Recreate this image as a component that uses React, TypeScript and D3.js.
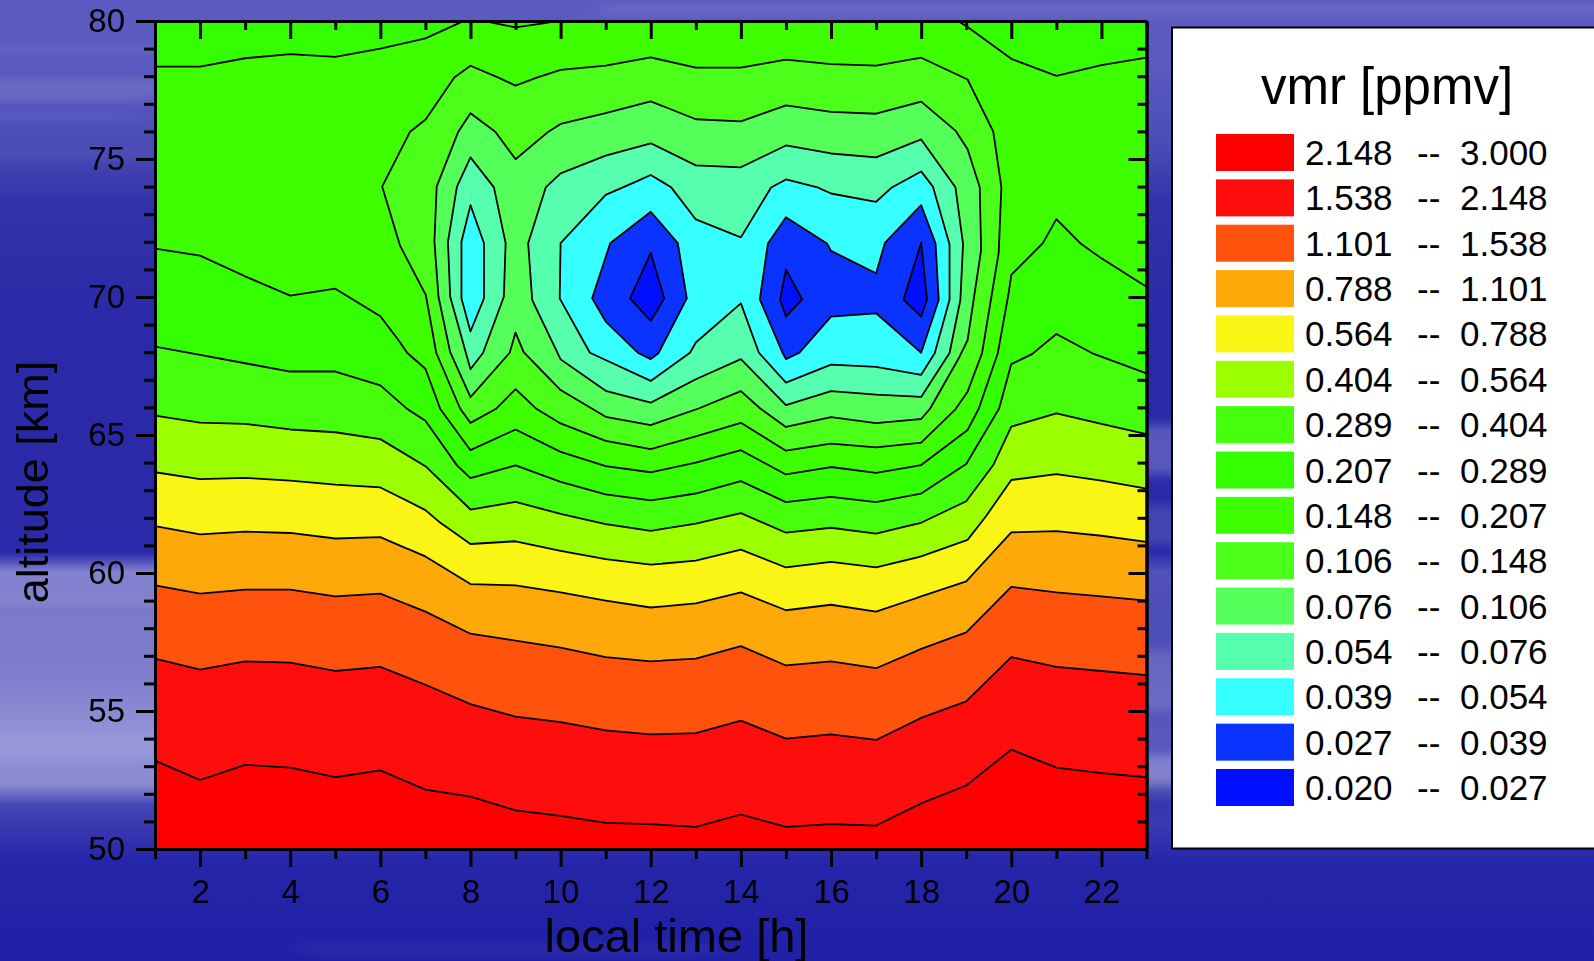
import React, { useEffect, useRef } from "react";
import * as d3 from "d3";

type Pt = [number, number];

// band colours, legend order (top row = highest vmr)
const bandLow = ["2.148", "1.538", "1.101", "0.788", "0.564", "0.404", "0.289", "0.207", "0.148", "0.106", "0.076", "0.054", "0.039", "0.027", "0.020"];
const bandHigh = ["3.000", "2.148", "1.538", "1.101", "0.788", "0.564", "0.404", "0.289", "0.207", "0.148", "0.106", "0.076", "0.054", "0.039", "0.027"];
const bandColors = ["#ff0000", "#ff0d0d", "#ff530d", "#ffa80a", "#faf514", "#9cff00", "#45ff0c", "#33ff00", "#3dff00", "#4cff1a", "#55ff5a", "#55ffae", "#36ffff", "#0a33ff", "#0010ff"];

// contours as [local time, altitude]
const c2148: Pt[] = [[1, 53.2], [2, 52.5], [3, 53.05], [4, 52.95], [5, 52.6], [6, 52.85], [7, 52.15], [8, 51.9], [9, 51.4], [10, 51.2], [11, 50.95], [12, 50.9], [13, 50.8], [14, 51.25], [15, 50.8], [16, 50.9], [17, 50.85], [18, 51.65], [19, 52.3], [20, 53.6], [21, 52.95], [22, 52.75], [23, 52.6]];
const c1538: Pt[] = [[1, 56.9], [2, 56.5], [3, 56.8], [4, 56.75], [5, 56.45], [6, 56.6], [7, 55.95], [8, 55.25], [9, 54.8], [10, 54.6], [11, 54.3], [12, 54.15], [13, 54.2], [14, 54.65], [15, 54.0], [16, 54.15], [17, 53.95], [18, 54.75], [19, 55.35], [20, 56.95], [21, 56.6], [22, 56.45], [23, 56.3]];
const c1101: Pt[] = [[1, 59.55], [2, 59.25], [3, 59.4], [4, 59.4], [5, 59.15], [6, 59.25], [7, 58.6], [8, 57.8], [9, 57.55], [10, 57.3], [11, 56.95], [12, 56.8], [13, 56.9], [14, 57.35], [15, 56.65], [16, 56.8], [17, 56.55], [18, 57.25], [19, 57.85], [20, 59.5], [21, 59.3], [22, 59.15], [23, 59.0]];
const c0788: Pt[] = [[1, 61.7], [2, 61.4], [3, 61.5], [4, 61.45], [5, 61.25], [6, 61.3], [7, 60.6], [8, 59.6], [9, 59.55], [10, 59.3], [11, 59.0], [12, 58.75], [13, 58.9], [14, 59.3], [15, 58.65], [16, 58.85], [17, 58.6], [18, 59.15], [19, 59.7], [20, 61.47], [21, 61.52], [22, 61.35], [23, 61.13]];
const c0564: Pt[] = [[1, 63.65], [2, 63.4], [3, 63.45], [4, 63.35], [5, 63.2], [6, 63.1], [7, 62.28], [7.3, 61.86], [8, 61.05], [9, 61.15], [10, 60.8], [11, 60.5], [12, 60.3], [13, 60.45], [14, 60.85], [15, 60.2], [16, 60.4], [17, 60.2], [18, 60.6], [19.03, 61.2], [19.43, 62.04], [20, 63.37], [21, 63.58], [22, 63.35], [23, 63.06]];
const c0404: Pt[] = [[1, 65.7], [2, 65.45], [3, 65.4], [4, 65.2], [5, 65.1], [6, 64.85], [7, 63.87], [8, 62.3], [9, 62.58], [10, 62.14], [11, 61.77], [12, 61.53], [13, 61.79], [14, 62.17], [15, 61.46], [16, 61.64], [17, 61.43], [18, 61.82], [19, 62.6], [19.6, 63.91], [20, 65.3], [21, 65.78], [22, 65.4], [23, 65.03]];
const c0289: Pt[] = [[1, 68.2], [2, 67.9], [3, 67.6], [4, 67.3], [5, 67.3], [6, 66.8], [6.6, 65.94], [7, 65.52], [7.7, 63.9], [8, 63.44], [9, 63.9], [10, 63.3], [11, 62.85], [12, 62.63], [13, 62.88], [14, 63.33], [15, 62.57], [16, 62.76], [17, 62.57], [18, 62.88], [19, 63.95], [19.73, 65.96], [20, 67.57], [20.46, 67.93], [21, 68.66], [21.8, 67.96], [23, 67.23]];
const c0207: Pt[] = [[1, 71.75], [2, 71.5], [3, 70.75], [4, 70.05], [5, 70.3], [5.3, 70.0], [6, 69.3], [6.4, 68.44], [6.6, 67.97], [7, 67.4], [7.33, 65.94], [8, 64.45], [9, 65.2], [10, 64.39], [11, 63.87], [12, 63.65], [13, 64.0], [14, 64.45], [15, 63.57], [16, 63.84], [17, 63.63], [18, 63.91], [19.03, 65.18], [19.28, 65.96], [19.7, 67.96], [19.94, 70.13], [20, 70.8], [20.7, 71.95], [21, 72.82], [21.53, 71.95], [22, 71.4], [23, 70.37]];
// same level again near the top edge, runs past 80 km and gets clipped
const c0207Top: Pt[] = [[1, 78.35], [2, 78.35], [3, 78.65], [4, 78.8], [5, 78.7], [6, 79.0], [7, 79.37], [7.77, 79.94], [8, 80.3], [8.47, 79.94], [9, 79.77], [9.73, 79.94], [10, 80.3], [14, 81], [18.5, 80.3], [19, 79.82], [20, 78.63], [21, 78.01], [22, 78.4], [23, 78.67]];
const c0148: Pt[] = [[6.04, 74], [6.66, 75.99], [7.01, 76.44], [7.64, 77.95], [8, 78.38], [8.62, 77.95], [9, 77.66], [9.47, 77.95], [10, 78.23], [11, 78.38], [12, 78.68], [13, 78.31], [14, 78.31], [15, 78.6], [16, 78.44], [17, 78.38], [18, 78.67], [19.03, 77.88], [19.6, 75.99], [19.78, 73.98], [19.72, 71.6], [19.35, 67.96], [19.03, 66.57], [18.76, 65.93], [18, 64.72], [17, 64.55], [16, 64.69], [15, 64.43], [14, 65.44], [13, 64.95], [12, 64.49], [11, 64.79], [10, 65.42], [9.47, 65.94], [9, 66.66], [8.56, 65.94], [8, 65.44], [7.77, 65.96], [7.24, 67.98], [7.01, 70.07], [6.44, 71.85]];
const c0106: Pt[] = [[7.25, 74], [7.73, 75.99], [8, 76.66], [8.55, 75.99], [9, 74.99], [9.73, 75.99], [10, 76.27], [11, 76.66], [12, 77.09], [13, 76.44], [14, 76.36], [15, 76.94], [16, 76.71], [17, 76.64], [18, 77.08], [18.76, 76.03], [19.03, 75.35], [19.3, 73.98], [19.33, 71.7], [19.03, 68.44], [18.83, 67.77], [18.2, 65.96], [18, 65.58], [17, 65.43], [16, 65.65], [15, 65.29], [14.43, 65.96], [14, 66.59], [13.06, 65.96], [12, 65.36], [11, 65.66], [10, 66.63], [9.18, 68.0], [9, 68.71], [8.87, 67.98], [8, 66.37], [7.55, 68.0], [7.29, 70.01], [7.2, 72]];
const c0076Left: Pt[] = [[7.7, 74], [8, 75.06], [8.52, 73.97], [8.78, 71.95], [8.74, 70.01], [8.28, 67.98], [8, 67.38], [7.55, 70.01], [7.5, 72]];
const c0076Right: Pt[] = [[9.67, 73.97], [10, 74.48], [11, 75.12], [12, 75.57], [13, 74.77], [14, 74.7], [15, 75.49], [16, 75.2], [17, 75.06], [18, 75.71], [18.76, 73.98], [18.93, 71.92], [18.87, 69.89], [18.63, 67.97], [18, 66.38], [17, 66.46], [16, 66.59], [15, 66.08], [14, 67.75], [13, 67.02], [12, 66.17], [11, 66.6], [10, 67.74], [9.37, 69.89], [9.28, 71.95]];
const c0054Left: Pt[] = [[8, 73.33], [8.3, 71.95], [8.3, 69.95], [8, 68.75], [7.8, 69.95], [7.8, 72]];
const c0054Right: Pt[] = [[10, 71.95], [11, 73.7], [11.7, 74.2], [12, 74.42], [12.45, 73.98], [13, 72.81], [14, 72.16], [14.67, 73.97], [15, 74.26], [15.7, 73.97], [16, 73.75], [17, 73.45], [17.35, 73.97], [18, 74.55], [18.26, 74], [18.63, 71.9], [18.63, 69.9], [18.3, 67.96], [18, 67.18], [17, 67.47], [16, 67.55], [15, 66.9], [14.4, 67.98], [14, 69.77], [13, 68.35], [12.87, 67.98], [12, 66.96], [10.65, 67.98], [9.98, 69.95]];
const c0039Left: Pt[] = [[12, 73.09], [12.6, 71.95], [12.8, 69.95], [12.17, 67.96], [12, 67.75], [11.73, 67.96], [11, 69.11], [10.7, 69.95], [11.1, 71.95]];
const c0039Right: Pt[] = [[15, 72.89], [15.91, 71.94], [16, 71.67], [17, 70.86], [17.2, 71.97], [18, 73.33], [18.32, 71.94], [18.39, 69.89], [18, 67.98], [17, 69.41], [16, 69.29], [15.3, 67.98], [15, 67.75], [14.93, 67.96], [14.42, 69.91], [14.6, 71.94]];
const c0027A: Pt[] = [[12, 71.6], [12.3, 69.95], [12, 69.13], [11.54, 69.95]];
const c0027B: Pt[] = [[15, 71.0], [15.36, 69.91], [15, 69.29], [14.87, 69.91]];
const c0027C: Pt[] = [[18, 71.97], [18.13, 69.91], [18, 69.29], [17.61, 69.91]];

const openContours = [c2148, c1538, c1101, c0788, c0564, c0404, c0289, c0207];
const closedContours: { rings: Pt[][]; band: number }[] = [
  { rings: [c0148], band: 9 },
  { rings: [c0106], band: 10 },
  { rings: [c0076Left, c0076Right], band: 11 },
  { rings: [c0054Left, c0054Right], band: 12 },
  { rings: [c0039Left, c0039Right], band: 13 },
  { rings: [c0027A, c0027B, c0027C], band: 14 },
];

const timeMajor = [2, 4, 6, 8, 10, 12, 14, 16, 18, 20, 22];
const timeMinor = [1, 3, 5, 7, 9, 11, 13, 15, 17, 19, 21, 23];
const altMajor = [50, 55, 60, 65, 70, 75, 80];
const altMinor = d3.range(50, 81).filter((d) => d % 5 !== 0);

// soft streaks of the backdrop: [y, height, x, width, opacity]
const streaks = [
  [4, 12, 600, 1100, 0.1], [46, 6, -60, 300, 0.1], [80, 10, -60, 260, 0.16], [94, 6, -60, 220, 0.2], [114, 5, -60, 200, 0.1], [152, 4, -60, 220, 0.1],
  [594, 10, -60, 220, 0.08], [738, 20, -60, 220, 0.08], [425, 50, 1120, 80, 0.22], [505, 40, 1120, 80, 0.12], [650, 60, 1120, 80, 0.14], [755, 30, 1120, 80, 0.25],
  [944, 10, 300, 420, 0.05],
];

const fontFamily = "'Liberation Sans', Arial, sans-serif";

const App = () => {
  const ref = useRef<SVGSVGElement>(null);

  useEffect(() => {
    const width = 1594, height = 961;
    const left = 155, right = 1146.5, top = 21, bottom = 849;

    const svg = d3.select(ref.current);
    svg.selectAll("*").remove();

    const defs = svg.append("defs");
    const grad = defs.append("linearGradient").attr("id", "sky").attr("x1", 0).attr("x2", 0).attr("y1", 0).attr("y2", 1);
    [[0, "#5a5ac0"], [60, "#5a5ac0"], [140, "#4d4db9"], [205, "#3232a8"], [320, "#2a2aa8"], [553, "#2a2aaa"], [572, "#8383d0"], [612, "#7a7ac8"], [674, "#7d7dcc"], [735, "#9393d8"], [785, "#8a8ad2"], [805, "#4545b4"], [860, "#2626aa"], [961, "#2020a6"]]
      .forEach(([y, c]) => grad.append("stop").attr("offset", (y as number) / height).attr("stop-color", c as string));
    defs.append("filter").attr("id", "soft").attr("filterUnits", "userSpaceOnUse")
      .attr("x", -200).attr("y", -100).attr("width", 2000).attr("height", 1200)
      .append("feGaussianBlur").attr("stdDeviation", "14 5");
    defs.append("clipPath").attr("id", "plotClip").append("rect")
      .attr("x", left).attr("y", top).attr("width", right - left).attr("height", bottom - top);

    svg.append("rect").attr("width", width).attr("height", height).attr("fill", "url(#sky)");
    // right of the plot the light band is weaker than on the left
    svg.append("rect").attr("x", 1110).attr("y", 555).attr("width", 120).attr("height", 260).attr("fill", "#2c2ca8").attr("opacity", 0.55).attr("filter", "url(#soft)");
    svg.append("g").attr("filter", "url(#soft)").selectAll("rect").data(streaks).join("rect")
      .attr("y", (d) => d[0]).attr("height", (d) => d[1]).attr("x", (d) => d[2]).attr("width", (d) => d[3])
      .attr("fill", "#ffffff").attr("opacity", (d) => d[4]);

    const x = d3.scaleLinear().domain([1, 23]).range([left, right]);
    const y = d3.scaleLinear().domain([50, 80]).range([bottom, top]);
    const line = d3.line<Pt>().x((d) => x(d[0])).y((d) => y(d[1]));

    const plot = svg.append("g").attr("clip-path", "url(#plotClip)");
    plot.append("rect").attr("x", left).attr("y", top).attr("width", right - left).attr("height", bottom - top).attr("fill", bandColors[0]);

    const cap: Pt[] = [[24, 90], [0, 90]];
    // each polygon covers everything above its contour, painted from the bottom up
    openContours.forEach((c, i) => {
      plot.append("path").attr("d", line([[0, c[0][1]], ...c, [24, c[c.length - 1][1]], ...cap]) + "Z").attr("fill", bandColors[i + 1]);
    });
    plot.append("path").attr("d", line([[0, c0207Top[0][1]], ...c0207Top, [24, c0207Top[c0207Top.length - 1][1]], ...cap]) + "Z").attr("fill", bandColors[7]);
    closedContours.forEach(({ rings, band }) => {
      rings.forEach((r) => plot.append("path").attr("d", line(r) + "Z").attr("fill", bandColors[band]));
    });

    const stroke = { fill: "none", stroke: "#000", "stroke-width": 1.8, "stroke-linejoin": "round" };
    const addLine = (d: string | null) => {
      const p = plot.append("path").attr("d", d);
      Object.entries(stroke).forEach(([k, v]) => p.attr(k, v));
    };
    [...openContours, c0207Top].forEach((c) => addLine(line(c)));
    closedContours.forEach(({ rings }) => rings.forEach((r) => addLine(line(r) + "Z")));

    const styleAxis = (g: any) => {
      g.selectAll("path").attr("stroke", "#000").attr("stroke-width", 3);
      g.selectAll("line").attr("stroke", "#000").attr("stroke-width", 3);
      g.selectAll("text").attr("font-family", fontFamily).attr("font-size", 33).attr("fill", "#000");
    };
    const axis = (gen: any, tx: number, ty: number) => {
      svg.append("g").attr("transform", `translate(${tx},${ty})`).call(gen).call(styleAxis);
    };

    // top and right carry inward ticks without labels
    axis(d3.axisBottom(x).tickValues(timeMinor).tickSize(10).tickSizeOuter(0).tickFormat(() => ""), 0, bottom);
    axis(d3.axisBottom(x).tickValues(timeMajor).tickSize(18).tickSizeOuter(0).tickPadding(13).tickFormat(d3.format("d")), 0, bottom);
    axis(d3.axisBottom(x).tickValues(timeMinor).tickSize(9).tickSizeOuter(0).tickFormat(() => ""), 0, top);
    axis(d3.axisBottom(x).tickValues(timeMajor).tickSize(18).tickSizeOuter(0).tickFormat(() => ""), 0, top);
    axis(d3.axisLeft(y).tickValues(altMinor).tickSize(11).tickSizeOuter(0).tickFormat(() => ""), left, 0);
    axis(d3.axisLeft(y).tickValues(altMajor).tickSize(19).tickSizeOuter(0).tickPadding(11).tickFormat(d3.format("d")), left, 0);
    axis(d3.axisLeft(y).tickValues(altMinor).tickSize(9).tickSizeOuter(0).tickFormat(() => ""), right, 0);
    axis(d3.axisLeft(y).tickValues(altMajor).tickSize(18).tickSizeOuter(0).tickFormat(() => ""), right, 0);

    svg.append("text").attr("x", 676.5).attr("y", 952).attr("text-anchor", "middle")
      .attr("font-family", fontFamily).attr("font-size", 47).text("local time [h]");
    svg.append("text").attr("transform", "translate(48,482) rotate(-90)").attr("text-anchor", "middle")
      .attr("font-family", fontFamily).attr("font-size", 45).text("altitude [km]");

    // legend box runs off the right edge
    const legend = svg.append("g");
    legend.append("rect").attr("x", 1172).attr("y", 27.5).attr("width", 440).attr("height", 821)
      .attr("fill", "#fff").attr("stroke", "#000").attr("stroke-width", 2);
    legend.append("text").attr("x", 1387).attr("y", 104).attr("text-anchor", "middle")
      .attr("font-family", fontFamily).attr("font-size", 51).text("vmr [ppmv]");
    const rowY = d3.scaleLinear().domain([0, 14]).range([134, 769]);
    bandColors.forEach((c, i) => {
      const ry = rowY(i);
      legend.append("rect").attr("x", 1216).attr("y", ry).attr("width", 78).attr("height", 37).attr("fill", c);
      const t = (tx: number, s: string) => legend.append("text").attr("x", tx).attr("y", ry + 31)
        .attr("font-family", fontFamily).attr("font-size", 35).text(s);
      t(1305, bandLow[i]);
      t(1417, "--");
      t(1460, bandHigh[i]);
    });
  }, []);

  return <svg ref={ref} width={1594} height={961} style={{ position: "absolute", left: 0, top: 0, display: "block" }} />;
};

export default App;
